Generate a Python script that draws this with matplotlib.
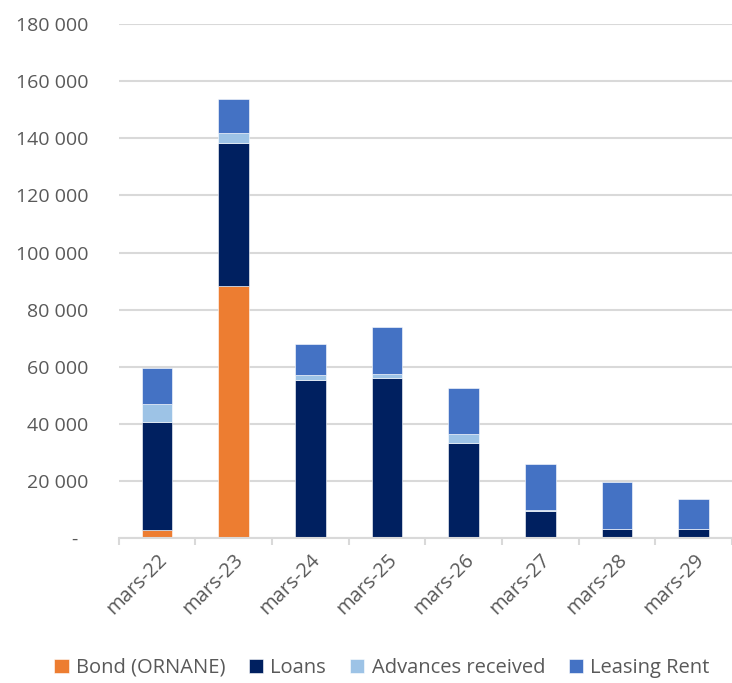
import matplotlib.pyplot as plt
from matplotlib.ticker import FuncFormatter, FixedLocator
import numpy as np

plt.rcParams['font.family'] = ['Open Sans', 'DejaVu Sans']

# data
periods = ['mars-22', 'mars-23', 'mars-24', 'mars-25', 'mars-26', 'mars-27', 'mars-28', 'mars-29']
bond = [3000, 88400, 0, 0, 0, 0, 0, 0]
loans = [37800, 50100, 55600, 56200, 33500, 9500, 3400, 3400]
advances = [6200, 3400, 1600, 1400, 3000, 300, 0, 0]
leasing = [12700, 12000, 11000, 16300, 16100, 16200, 16500, 10300]

series = [
    ('Bond (ORNANE)', bond, '#ED7D31'),
    ('Loans', loans, '#002060'),
    ('Advances received', advances, '#9DC3E6'),
    ('Leasing Rent', leasing, '#4472C4'),
]

fig = plt.figure(figsize=(7.32, 6.83), dpi=100)
ax = fig.add_axes([0.162, 0.2116, 0.838, 0.7533])

x = np.arange(len(periods))
bottom = np.zeros(len(periods))
for name, vals, col in series:
    ax.bar(x, vals, 0.4, bottom=bottom, color=col, label=name,
           edgecolor='white', linewidth=0.4, zorder=3)
    bottom += np.array(vals)

ax.set_xlim(-0.5, len(periods) - 0.5)
ax.set_ylim(0, 180000)
ax.set_yticks(np.arange(0, 180001, 20000))


def fmt(v, pos):
    if v == 0:
        return '-  '
    return f'{int(v):,}'.replace(',', ' ')


ax.yaxis.set_major_formatter(FuncFormatter(fmt))
ax.grid(axis='y', color='#D9D9D9', linewidth=1.5, zorder=0)
for s in ['top', 'right', 'left']:
    ax.spines[s].set_visible(False)
ax.spines['bottom'].set_color('#D9D9D9')
ax.spines['bottom'].set_linewidth(1.5)
ax.spines['bottom'].set_zorder(4)

ax.tick_params(axis='y', length=0, pad=22, labelsize=14, labelcolor='#595959')
ax.set_xticks(x)
ax.set_xticklabels(periods, rotation=45, ha='right', va='top',
                   rotation_mode='anchor', fontsize=14.5, color='#595959')
ax.tick_params(axis='x', which='major', length=0, pad=8)
ax.xaxis.set_minor_locator(FixedLocator(np.arange(-0.5, len(periods), 1.0)))
ax.tick_params(axis='x', which='minor', length=5, width=1.5, color='#D9D9D9')

fig.legend(loc='center', bbox_to_anchor=(0.522, 0.022), ncol=4, frameon=False,
           fontsize=14.5, handlelength=0.7, handleheight=0.7, handletextpad=0.35,
           columnspacing=1.2, labelcolor='#595959')

plt.savefig('out.png', dpi=100, facecolor='white')
